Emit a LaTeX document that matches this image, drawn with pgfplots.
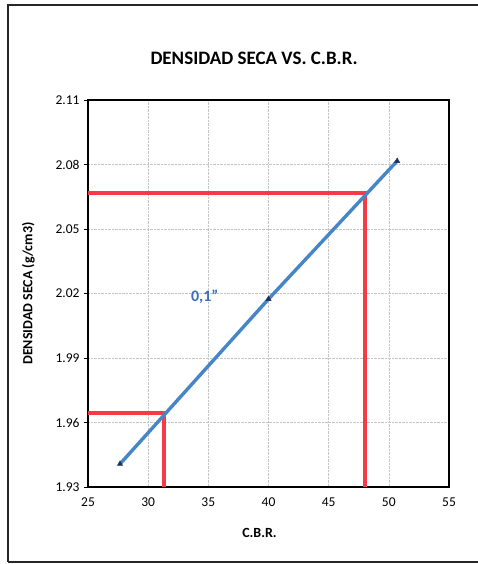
\documentclass[border=0pt]{standalone}
\usepackage{fontspec}
\setmainfont{Carlito}
\usepackage{pgfplots}
\pgfplotsset{compat=1.18}
\definecolor{lineblue}{RGB}{70,133,200}
\definecolor{redline}{RGB}{245,60,70}
\definecolor{marknavy}{RGB}{30,50,90}
\definecolor{labblue}{RGB}{60,110,190}
\begin{document}
\begin{tikzpicture}[x=1pt,y=1pt]
\path[use as bounding box] (0,0) rectangle (478,564);
\draw[black!85,line width=1.2pt] (8,2) -- (8,559) -- (490,559);
\draw[black!85,line width=1.2pt] (8,2) -- (490,2);
\begin{axis}[
  at={(88pt,77pt)}, anchor=south west,
  width=361pt, height=387pt, scale only axis,
  xmin=25, xmax=55, ymin=1.93, ymax=2.11,
  xtick={25,30,...,55},
  ytick={1.93,1.96,1.99,2.02,2.05,2.08,2.11},
  yticklabel style={/pgf/number format/fixed,/pgf/number format/precision=2,/pgf/number format/fixed zerofill},
  /pgf/number format/assume math mode=true,
  ticklabel style={font=\fontsize{13.5}{15}\selectfont},
  xticklabel style={yshift=-3pt},
  yticklabel style={xshift=-1pt},
  grid=major,
  major grid style={gray!45, densely dotted, line width=0.6pt},
  axis line style={black, line width=1.1pt},
  tick style={black, line width=0.6pt},
  tick align=outside, major tick length=4pt,
  xtick style={draw=none},
  ytick pos=left,
  title={\bfseries DENSIDAD SECA VS. C.B.R.},
  title style={font=\fontsize{19}{22}\selectfont, at={(0.46,1)}, yshift=26pt},
  xlabel={\bfseries C.B.R.},
  xlabel style={font=\fontsize{14}{16}\selectfont, at={(0.475,0)}, anchor=north, yshift=-38pt},
  ylabel={\bfseries DENSIDAD SECA (g/cm3)},
  ylabel style={font=\fontsize{14}{16}\selectfont, yshift=14pt},
  clip=false,
]
\addplot[redline, line width=3.4pt] coordinates {(25,2.0667) (48.03,2.0667) (48.03,1.93)};
\addplot[redline, line width=3.4pt] coordinates {(25,1.9644) (31.3,1.9644) (31.3,1.93)};
\addplot[lineblue, line width=3.4pt, mark=triangle*, mark size=3pt, mark options={fill=marknavy, draw=marknavy, line width=0.5pt}] coordinates {
(27.66,1.9407) (40.0,2.0174) (50.69,2.0816)};
\node[font=\bfseries\fontsize{16}{18}\selectfont, text=labblue] at (axis cs:34.7,2.0185) {0,1"};
\end{axis}
\end{tikzpicture}
\end{document}
